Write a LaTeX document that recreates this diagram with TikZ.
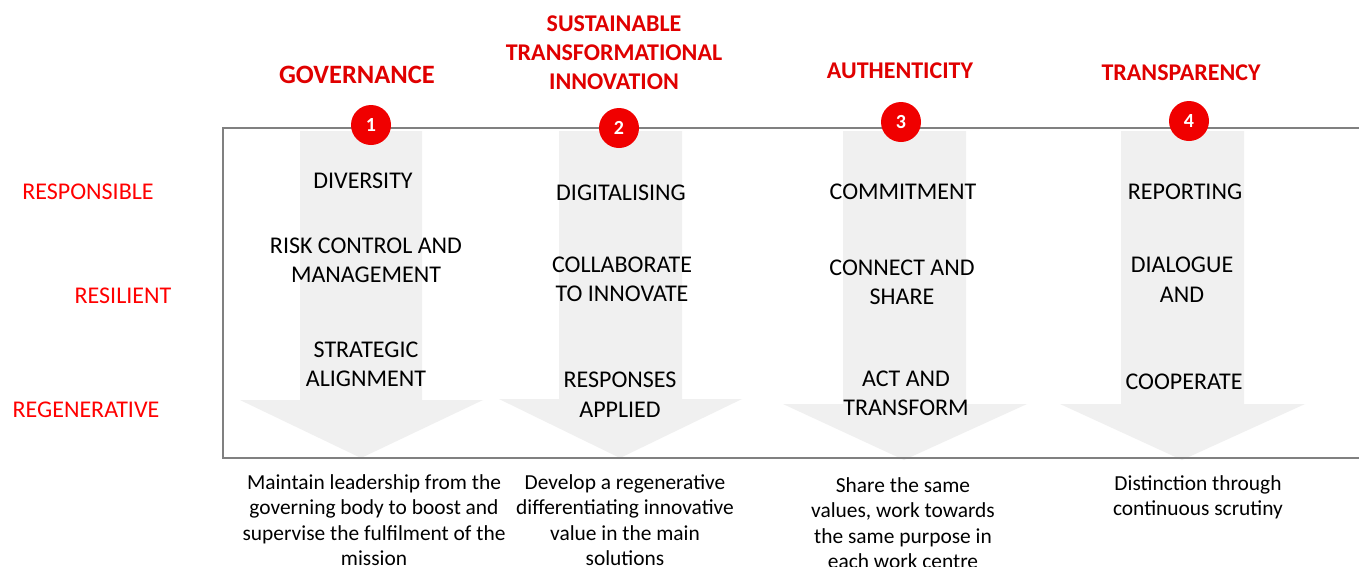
\documentclass[tikz,border=0pt]{standalone}
\usepackage{fontspec}
\setmainfont{Carlito}
\definecolor{titlered}{RGB}{224,0,0}
\definecolor{labelred}{RGB}{255,0,0}
\definecolor{circred}{RGB}{240,0,0}
\definecolor{arrowgray}{RGB}{240,240,240}
\definecolor{framegray}{RGB}{128,128,128}
\begin{document}
\begin{tikzpicture}[x=1pt,y=-1pt,
  title/.style={text=titlered,font=\fontsize{24}{29}\selectfont\bfseries,align=center,inner sep=0pt},
  side/.style={text=labelred,font=\fontsize{24}{29}\selectfont,inner sep=0pt},
  item/.style={font=\fontsize{24}{29.5}\selectfont,align=center,inner sep=0pt},
  desc/.style={font=\fontsize{21.4}{25.5}\selectfont,align=center,inner sep=0pt},
  num/.style={circle,fill=circred,minimum size=40pt,inner sep=0pt,text=white,font=\fontsize{20}{24}\selectfont\bfseries},
  bigarrow/.style={fill=arrowgray,draw=none},
  frame/.style={draw=framegray,line width=2pt}]
\useasboundingbox (0,0) rectangle (1359,566);
\fill[white] (0,0) rectangle (1359,566);

% big down arrows
\fill[bigarrow] (300,131) -- (422,131) -- (422,400) -- (483,400) -- (361,458) -- (240,400) -- (300,400) -- cycle;
\fill[bigarrow] (559,131) -- (682,131) -- (682,399) -- (742,399) -- (620,458) -- (499,399) -- (559,399) -- cycle;
\fill[bigarrow] (843,131) -- (966,131) -- (966,404) -- (1027,404) -- (904,460) -- (783,404) -- (843,404) -- cycle;
\fill[bigarrow] (1121,131) -- (1244,131) -- (1244,404) -- (1305,404) -- (1182,460) -- (1060,404) -- (1121,404) -- cycle;

% frame
\draw[frame] (1365,128) -- (223,128) -- (223,458) -- (1365,458);

% titles
\node[title,font=\fontsize{26.5}{30}\selectfont\bfseries] (t1) at (357,74.5) {GOVERNANCE};
\node[title] (t2) at (614,53) {SUSTAINABLE\\TRANSFORMATIONAL\\INNOVATION};
\node[title] (t3) at (900,71) {AUTHENTICITY};
\node[title] (t4) at (1181,73) {TRANSPARENCY};

% numbers
\node[num] (n1) at (371,125) {1};
\node[num] (n2) at (619,128) {2};
\node[num] (n3) at (901,122) {3};
\node[num] (n4) at (1189,121) {4};

% side labels
\node[side] (s1) at (88,192) {RESPONSIBLE};
\node[side] (s2) at (123,296) {RESILIENT};
\node[side] (s3) at (86,410) {REGENERATIVE};

% column 1
\node[item] (a1) at (363,180.5) {DIVERSITY};
\node[item] (a2) at (366,260.5) {RISK CONTROL AND\\MANAGEMENT};
\node[item] (a3) at (366,364.5) {STRATEGIC\\ALIGNMENT};
% column 2
\node[item] (b1) at (621,192.5) {DIGITALISING};
\node[item] (b2) at (622,279.5) {COLLABORATE\\TO INNOVATE};
\node[item] (b3) at (620,394.5) {RESPONSES\\APPLIED};
% column 3
\node[item] (c1) at (903,191.5) {COMMITMENT};
\node[item] (c2) at (902,282.5) {CONNECT AND\\SHARE};
\node[item] (c3) at (906,393.5) {ACT AND\\TRANSFORM};
% column 4
\node[item] (d1) at (1185,191.5) {REPORTING};
\node[item] (d2) at (1182,279.5) {DIALOGUE\\AND};
\node[item] (d3) at (1184,381.5) {COOPERATE};

% descriptions
\node[desc,anchor=north] (e1) at (374,474) {Maintain leadership from the\\governing body to boost and\\supervise the fulfilment of the\\mission};
\node[desc,anchor=north] (e2) at (625,474) {Develop a regenerative\\differentiating innovative\\value in the main\\solutions};
\node[desc,anchor=north] (e3) at (903,477) {Share the same\\values, work towards\\the same purpose in\\each work centre};
\node[desc,anchor=north] (e4) at (1198,475) {Distinction through\\continuous scrutiny};
\end{tikzpicture}
\end{document}
